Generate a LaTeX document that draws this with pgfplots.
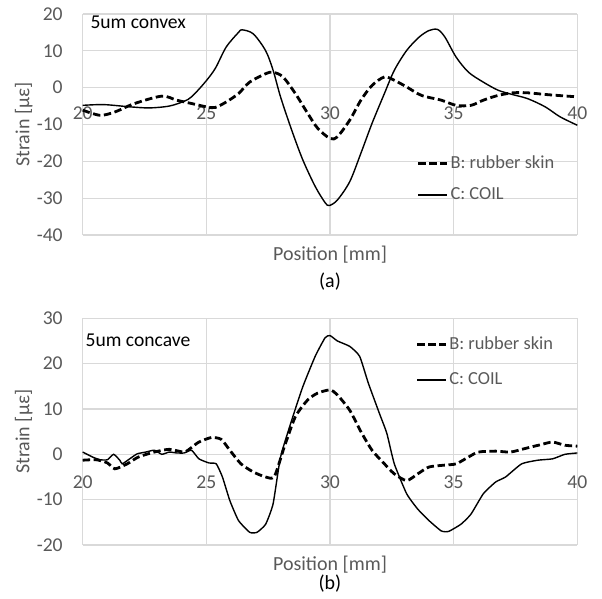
\documentclass[border=0pt]{standalone}
\usepackage{fontspec}
\setmainfont{Carlito}
\usepackage{pgfplots}
\pgfplotsset{compat=1.18}
\definecolor{tickgray}{RGB}{89,89,89}
\definecolor{gridgray}{RGB}{217,217,217}

\pgfplotsset{
  strainaxis/.style={
    scale only axis, width=247.3pt,
    xmin=20, xmax=40, xtick={20,25,...,40},
    axis x line=middle, axis y line=left,
    axis line style={draw=none}, major tick length=0pt,
    hide obscured x ticks=false, hide obscured y ticks=false,
    grid=major, major grid style={gridgray, line width=0.6pt},
    tick label style={font=\fontsize{9.8}{11}\selectfont, text=tickgray},
    /pgf/number format/assume math mode=true,
    label style={font=\fontsize{10}{12}\selectfont, text=tickgray},
    xlabel={Position [mm]}, ylabel={Strain [με]},
    xticklabel style={anchor=center},
    yticklabel style={anchor=east, xshift=-6.5pt},
    ylabel style={at={(axis description cs:-0.119,0.5)}, anchor=center},
    legend style={draw=none, fill=none, inner sep=0pt,
      font=\fontsize{9.2}{11}\selectfont, text=tickgray,
      nodes={inner sep=1pt}},
    legend cell align=left,
    legend image code/.code={\draw[#1] (0pt,0pt) -- (14.4pt,0pt);},
    clip=false,
  },
  rubber/.style={black, line width=1.4pt, dash pattern=on 3.7pt off 1.8pt},
  coil/.style={black, line width=0.7pt},
}

\begin{document}
\begin{tikzpicture}
\path[use as bounding box] (0,0) rectangle (301pt,-299.5pt);

% (a) convex
\begin{axis}[strainaxis, at={(41.35pt,-7pt)}, anchor=north west,
  height=110.5pt, ymin=-40, ymax=20, ytick={-40,-30,...,20},
  xticklabel style={yshift=-13pt},
  xlabel style={at={(axis description cs:0.5,-0.0905)}, anchor=center},
  legend style={at={(axis cs:33.5,-24.85)}, anchor=west, row sep=6pt}]
\addplot[rubber, smooth, tension=0.5] coordinates {
(20,-6.1) (20.7,-7.5) (21.3,-6.6) (22.1,-4.3) (23.2,-2.3) (23.8,-3.4) (24.4,-4.3)
(25.0,-5.2) (25.35,-5.4) (25.8,-3.9) (26.3,-1.6) (26.75,1.5) (27.4,3.8) (27.7,4.2)
(28.1,2.9) (28.6,-1.6) (29.1,-7) (29.5,-11) (30.0,-13.8) (30.3,-13.3) (30.8,-8.8)
(31.25,-3.4) (31.7,0.6) (32.2,2.9) (32.6,2.0) (33.1,0.2) (33.7,-2.1) (34.5,-3.4)
(35.1,-4.8) (35.7,-4.8) (36.2,-3.4) (36.8,-2.1) (37.4,-1.4) (38.0,-1.4) (38.8,-1.9)
(40,-2.5)};
\addlegendentry{B: rubber skin}
\addplot[coil, smooth, tension=0.5] coordinates {
(20,-4.8) (20.85,-4.6) (21.9,-5.2) (22.7,-5.5) (23.5,-5) (24.1,-3.7) (24.4,-2.5)
(24.9,1.1) (25.35,5.1) (25.8,11) (26.3,15) (26.45,15.7) (26.9,14.6) (27.4,10)
(27.7,4.7) (28.0,-2.5) (28.45,-11.5) (28.9,-19.6) (29.4,-26.8) (29.8,-31.2)
(29.97,-32) (30.3,-30.5) (30.8,-25.5) (31.25,-17.8) (31.7,-9.7) (32.2,-1.6)
(32.6,4.7) (33.1,10.1) (33.6,13.7) (34.0,15.5) (34.35,15.8) (34.65,13.7) (35.1,8.3)
(35.6,4.2) (36.2,1.5) (36.8,-0.7) (37.4,-1.9) (38.0,-3) (38.7,-5.2) (39.3,-7.9)
(40,-10.2)};
\addlegendentry{C: COIL}
\node[anchor=west, font=\fontsize{9.8}{11}\selectfont, inner sep=0pt] at (axis cs:20.3,17.7) {5um convex};
\end{axis}
\node[font=\fontsize{10}{12}\selectfont] at (165pt,-140.85pt) {(a)};

% (b) concave
\begin{axis}[strainaxis, at={(41.35pt,-159.15pt)}, anchor=north west,
  height=113.35pt, ymin=-20, ymax=30, ytick={-20,-10,...,30},
  xticklabel style={yshift=-13.8pt},
  xlabel style={at={(axis description cs:0.5,-0.0882)}, anchor=center},
  legend style={at={(axis cs:33.45,20.3)}, anchor=west, row sep=8pt}]
\addplot[rubber, smooth, tension=0.4] coordinates {
(20,-1.3) (20.55,-1.2) (21.0,-1.9) (21.3,-3.2) (21.8,-2.1) (22.25,-0.6) (22.9,0.5)
(23.5,1.1) (24.1,0.5) (24.4,1.5) (24.7,2.7) (25.2,3.7) (25.6,3.3) (25.95,0.9)
(26.4,-2.1) (26.9,-3.9) (27.4,-5) (27.75,-4.9) (28.15,1.6) (28.6,8.3) (29.1,12)
(29.5,13.5) (30.0,14.2) (30.3,13.1) (30.8,9.7) (31.25,5) (31.7,0.9) (32.2,-2.1)
(32.6,-4.3) (33.1,-5.8) (33.55,-4.3) (34.0,-2.8) (34.6,-2.4) (35.1,-2.1) (35.6,-0.6)
(36.0,0.5) (36.7,0.7) (37.3,0.5) (37.9,1.3) (38.5,2.1) (39.0,2.7) (39.5,2) (40,1.8)};
\addlegendentry{B: rubber skin}
\addplot[coil, smooth, tension=0.3] coordinates {
(20,0.5) (20.4,-0.6) (20.7,-1.2) (21.0,-1.2) (21.25,0) (21.5,-1.3) (21.6,-2.1)
(21.9,-1) (22.2,0.1) (22.55,0.5) (22.9,0.9) (23.2,0) (23.5,0.5) (23.8,0.3) (24.1,0.3)
(24.4,0.9) (24.7,-1) (25.1,-1.9) (25.4,-2.1) (25.65,-5) (25.95,-10.2) (26.3,-14.6)
(26.75,-17.2) (27.05,-17.2) (27.4,-15.4) (27.7,-10.9) (28.0,-0.6) (28.45,7.5)
(28.9,14.9) (29.4,21.6) (29.8,25.7) (30.0,26.2) (30.3,25) (30.8,23.8) (31.2,21.6)
(31.55,15.7) (32.0,9) (32.3,4.6) (32.6,-2.1) (33.1,-8.7) (33.55,-12.1) (34.0,-14.6)
(34.5,-16.9) (34.8,-17) (35.3,-15.4) (35.7,-13.2) (36.2,-8.7) (36.7,-6.1) (37.1,-5)
(37.75,-2.1) (38.4,-1.3) (39.0,-1) (39.5,0) (40,0.3)};
\addlegendentry{C: COIL}
\node[anchor=west, font=\fontsize{9.8}{11}\selectfont, inner sep=0pt] at (axis cs:20.1,25.1) {5um concave};
\end{axis}
\node[font=\fontsize{10}{12}\selectfont] at (165pt,-291.65pt) {(b)};
\end{tikzpicture}
\end{document}
